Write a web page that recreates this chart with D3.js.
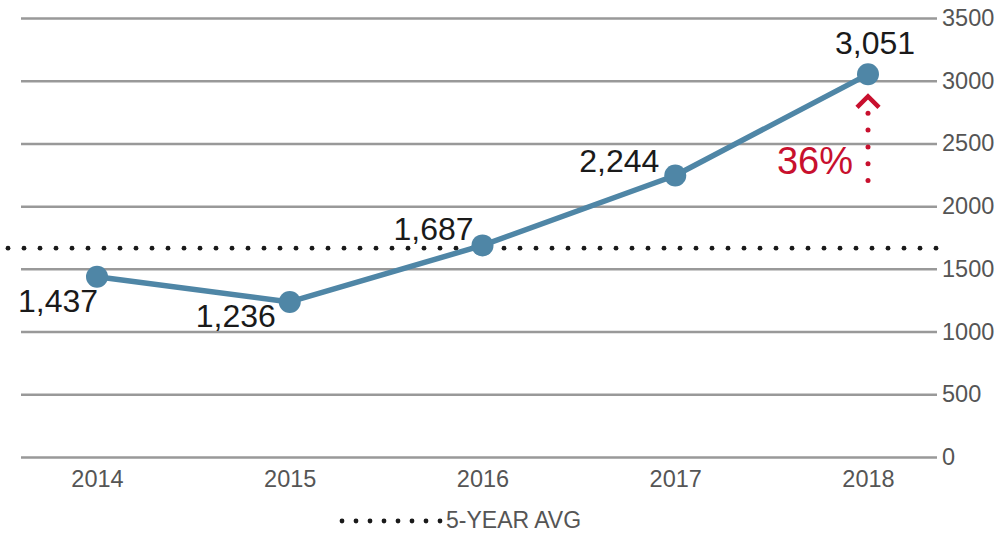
<!DOCTYPE html>
<html>
<head>
<meta charset="utf-8">
<script src="https://cdn.jsdelivr.net/npm/d3@7"></script>
<style>
  html, body { margin: 0; padding: 0; background: #fff; }
  svg { display: block; font-family: "Liberation Sans", Arial, Helvetica, sans-serif; }
</style>
</head>
<body>
<svg id="chart" width="997" height="533"></svg>
<script>
// Annual counts
const years = ["2014", "2015", "2016", "2017", "2018"];
const counts = [1437, 1236, 1687, 2244, 3051];
// Value-label placement relative to each point: [dx, dy]
const labelOffsets = [[-39, 35], [-54, 25], [-49, -5], [-56, -4], [7, -20]];
const yTicks = [0, 500, 1000, 1500, 2000, 2500, 3000, 3500];
const fiveYearAvg = 1665;
const changePct = "36%";
const legendLabel = "5-YEAR AVG";

const svg = d3.select("#chart");
const x = d3.scalePoint().domain(years).range([97, 868]);
const y = d3.scaleLinear().domain([0, 3500]).range([457, 18]);

// Horizontal gridlines with labels on the right
const yAxis = d3.axisRight(y).tickValues(yTicks).tickSize(916).tickFormat(d3.format("d"));
const gy = svg.append("g").attr("transform", "translate(21,0)").call(yAxis);
gy.select(".domain").remove();
gy.selectAll(".tick line").attr("stroke", "#999").attr("stroke-width", 2.5);
gy.selectAll(".tick text").attr("fill", "#555").attr("font-size", 23.5).attr("x", 921);

// Year labels along the bottom
const xAxis = d3.axisBottom(x).tickSize(0).tickPadding(13);
const gx = svg.append("g").attr("transform", "translate(0,457)").call(xAxis);
gx.select(".domain").remove();
gx.selectAll(".tick text").attr("fill", "#555").attr("font-size", 23.5);

// Dotted five-year average line
const avgDots = d3.range(8, 940, 16);
svg.append("g").selectAll("circle").data(avgDots).join("circle")
  .attr("cx", d => d).attr("cy", y(fiveYearAvg)).attr("r", 2.4).attr("fill", "#1a1a1a");

// Trend line and points
const data = years.map((yr, i) => ({ year: yr, value: counts[i] }));
svg.append("path").datum(data)
  .attr("fill", "none").attr("stroke", "#4f86a6").attr("stroke-width", 5.5)
  .attr("stroke-linejoin", "round")
  .attr("d", d3.line().x(d => x(d.year)).y(d => y(d.value)));
svg.append("g").selectAll("circle").data(data).join("circle")
  .attr("cx", d => x(d.year)).attr("cy", d => y(d.value)).attr("r", 11).attr("fill", "#4f86a6");

// Value labels
svg.append("g").selectAll("text").data(data).join("text")
  .attr("x", (d, i) => x(d.year) + labelOffsets[i][0])
  .attr("y", (d, i) => y(d.value) + labelOffsets[i][1])
  .attr("text-anchor", "middle").attr("font-size", 32).attr("fill", "#1a1a1a")
  .text(d => d3.format(",")(d.value));

// Year-over-year change annotation (2017 -> 2018)
const red = "#c8102e";
const ax = x(years[4]);
const topY = y(counts[4]) + 22;
const botY = y(counts[3]) + 5;
svg.append("path")
  .attr("d", `M${ax - 11},${topY + 11} L${ax},${topY} L${ax + 11},${topY + 11}`)
  .attr("fill", "none").attr("stroke", red).attr("stroke-width", 4.5);
svg.append("g").selectAll("circle").data(d3.range(topY + 17, botY + 1, 16.8)).join("circle")
  .attr("cx", ax).attr("cy", d => d).attr("r", 2.5).attr("fill", red);
svg.append("text").attr("x", ax - 53).attr("y", y(counts[3]) - 2)
  .attr("text-anchor", "middle").attr("font-size", 38).attr("fill", red).text(changePct);

// Legend
const legend = svg.append("g");
legend.selectAll("circle").data(d3.range(8)).join("circle")
  .attr("cx", d => 342 + d * 14).attr("cy", 521).attr("r", 2.4).attr("fill", "#1a1a1a");
legend.append("text").attr("x", 446).attr("y", 528).attr("font-size", 23).attr("fill", "#555").text(legendLabel);
</script>
</body>
</html>
